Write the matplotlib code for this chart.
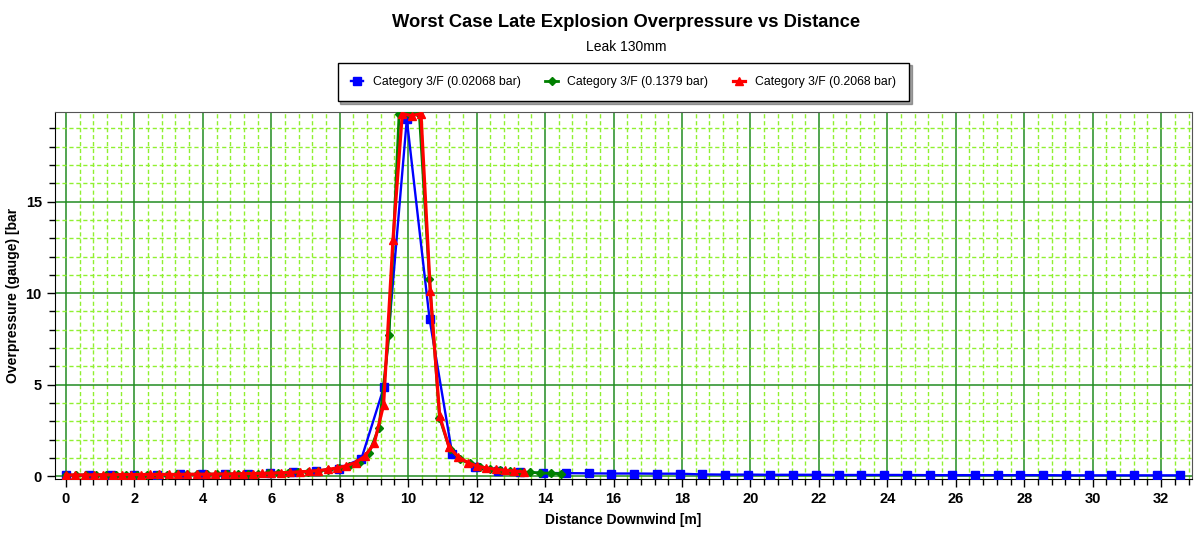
import numpy as np
import matplotlib
matplotlib.use("Agg")
import matplotlib.pyplot as plt
from matplotlib.ticker import MultipleLocator

# data
blue_step = 0.664
blue_y = [0.07, 0.07, 0.08, 0.08, 0.09, 0.10, 0.11, 0.12, 0.14, 0.17,
          0.22, 0.30, 0.42, 0.95, 4.9, 19.5, 8.6, 1.2, 0.5, 0.3,
          0.22, 0.18, 0.17, 0.16, 0.15, 0.15, 0.14, 0.14, 0.10, 0.09,
          0.09, 0.08, 0.08, 0.08, 0.07, 0.07, 0.07, 0.07, 0.06, 0.06,
          0.06, 0.06, 0.06, 0.06, 0.05, 0.05, 0.05, 0.05, 0.05, 0.05]

green_step = 0.295
green_y = [0.06, 0.06, 0.07, 0.07, 0.07, 0.08, 0.08, 0.08, 0.09, 0.09,
           0.09, 0.10, 0.10, 0.11, 0.11, 0.12, 0.12, 0.13, 0.13, 0.14,
           0.16, 0.18, 0.20, 0.22, 0.26, 0.30, 0.35, 0.43, 0.55, 0.75,
           1.25, 2.65, 7.7, 19.8, 19.8, 19.8, 10.8, 3.2, 1.5, 0.95,
           0.70, 0.50, 0.40, 0.33, 0.28, 0.24, 0.21, 0.18, 0.16, 0.14]

red_step = 0.273
red_y = [0.07, 0.07, 0.07, 0.08, 0.08, 0.08, 0.09, 0.09, 0.09, 0.10,
         0.10, 0.10, 0.10, 0.11, 0.11, 0.11, 0.12, 0.12, 0.13, 0.14,
         0.15, 0.16, 0.17, 0.19, 0.21, 0.24, 0.27, 0.31, 0.37, 0.45,
         0.57, 0.75, 1.1, 1.8, 3.9, 12.9, 19.8, 19.7, 19.8, 10.1,
         3.3, 1.6, 1.05, 0.75, 0.55, 0.45, 0.38, 0.32, 0.28, 0.24]

labels = ['Category 3/F (0.02068 bar)', 'Category 3/F (0.1379 bar)', 'Category 3/F (0.2068 bar)']

blue_x = np.arange(len(blue_y)) * blue_step
green_x = np.arange(len(green_y)) * green_step
red_x = np.arange(len(red_y)) * red_step

plt.rcParams['font.family'] = ['Liberation Sans', 'DejaVu Sans']
plt.rcParams['font.weight'] = 'bold'

fig = plt.figure(figsize=(12, 5.33), dpi=100)
ax = fig.add_axes([0.0458, 0.1013, 0.9475, 0.6887])

ax.plot(blue_x, blue_y, color='#0000FF', lw=1.7, marker='s', ms=6, label=labels[0], zorder=3)
ax.plot(green_x, green_y, color='#008000', lw=2, marker='D', ms=4.5, label=labels[1], zorder=4)
ax.plot(red_x, red_y, color='#FF0000', lw=2.3, marker='^', ms=6, label=labels[2], zorder=5)

ax.set_xlim(-0.32, 32.9)
ax.set_ylim(-0.15, 19.9)
ax.xaxis.set_major_locator(MultipleLocator(2))
ax.xaxis.set_minor_locator(MultipleLocator(0.4))
ax.yaxis.set_major_locator(MultipleLocator(5))
ax.yaxis.set_minor_locator(MultipleLocator(1))

ax.grid(which='minor', color='#90F030', linestyle=(0, (3, 2)), lw=1.0, zorder=0)
ax.grid(which='major', color='#228B22', linestyle='-', lw=1.1, zorder=1)
ax.set_axisbelow(True)

ax.tick_params(which='major', direction='out', length=6, width=1, labelsize=10.5)
ax.tick_params(which='minor', direction='out', length=4, width=1)

for s in ['top', 'right']:
    ax.spines[s].set_color('#555555')

ax.set_xlabel('Distance Downwind [m]', fontsize=10, fontweight='bold', labelpad=5)
ax.set_ylabel('Overpressure (gauge) [bar', fontsize=10, fontweight='bold', labelpad=4)

fig.text(0.5217, 0.958, 'Worst Case Late Explosion Overpressure vs Distance',
         ha='center', va='center', fontsize=13.2, fontweight='bold')
fig.text(0.5217, 0.912, 'Leak 130mm', ha='center', va='center', fontsize=10, fontweight='normal')

leg = ax.legend(loc='lower center', bbox_to_anchor=(0.5, 1.012), ncol=3,
                prop={'size': 8.8, 'weight': 'normal'},
                frameon=True, fancybox=False, shadow=True, edgecolor='black',
                handlelength=1.0, columnspacing=2.0, borderpad=1.1)
leg.get_frame().set_linewidth(1)

fig.savefig('out.png', dpi=100)
